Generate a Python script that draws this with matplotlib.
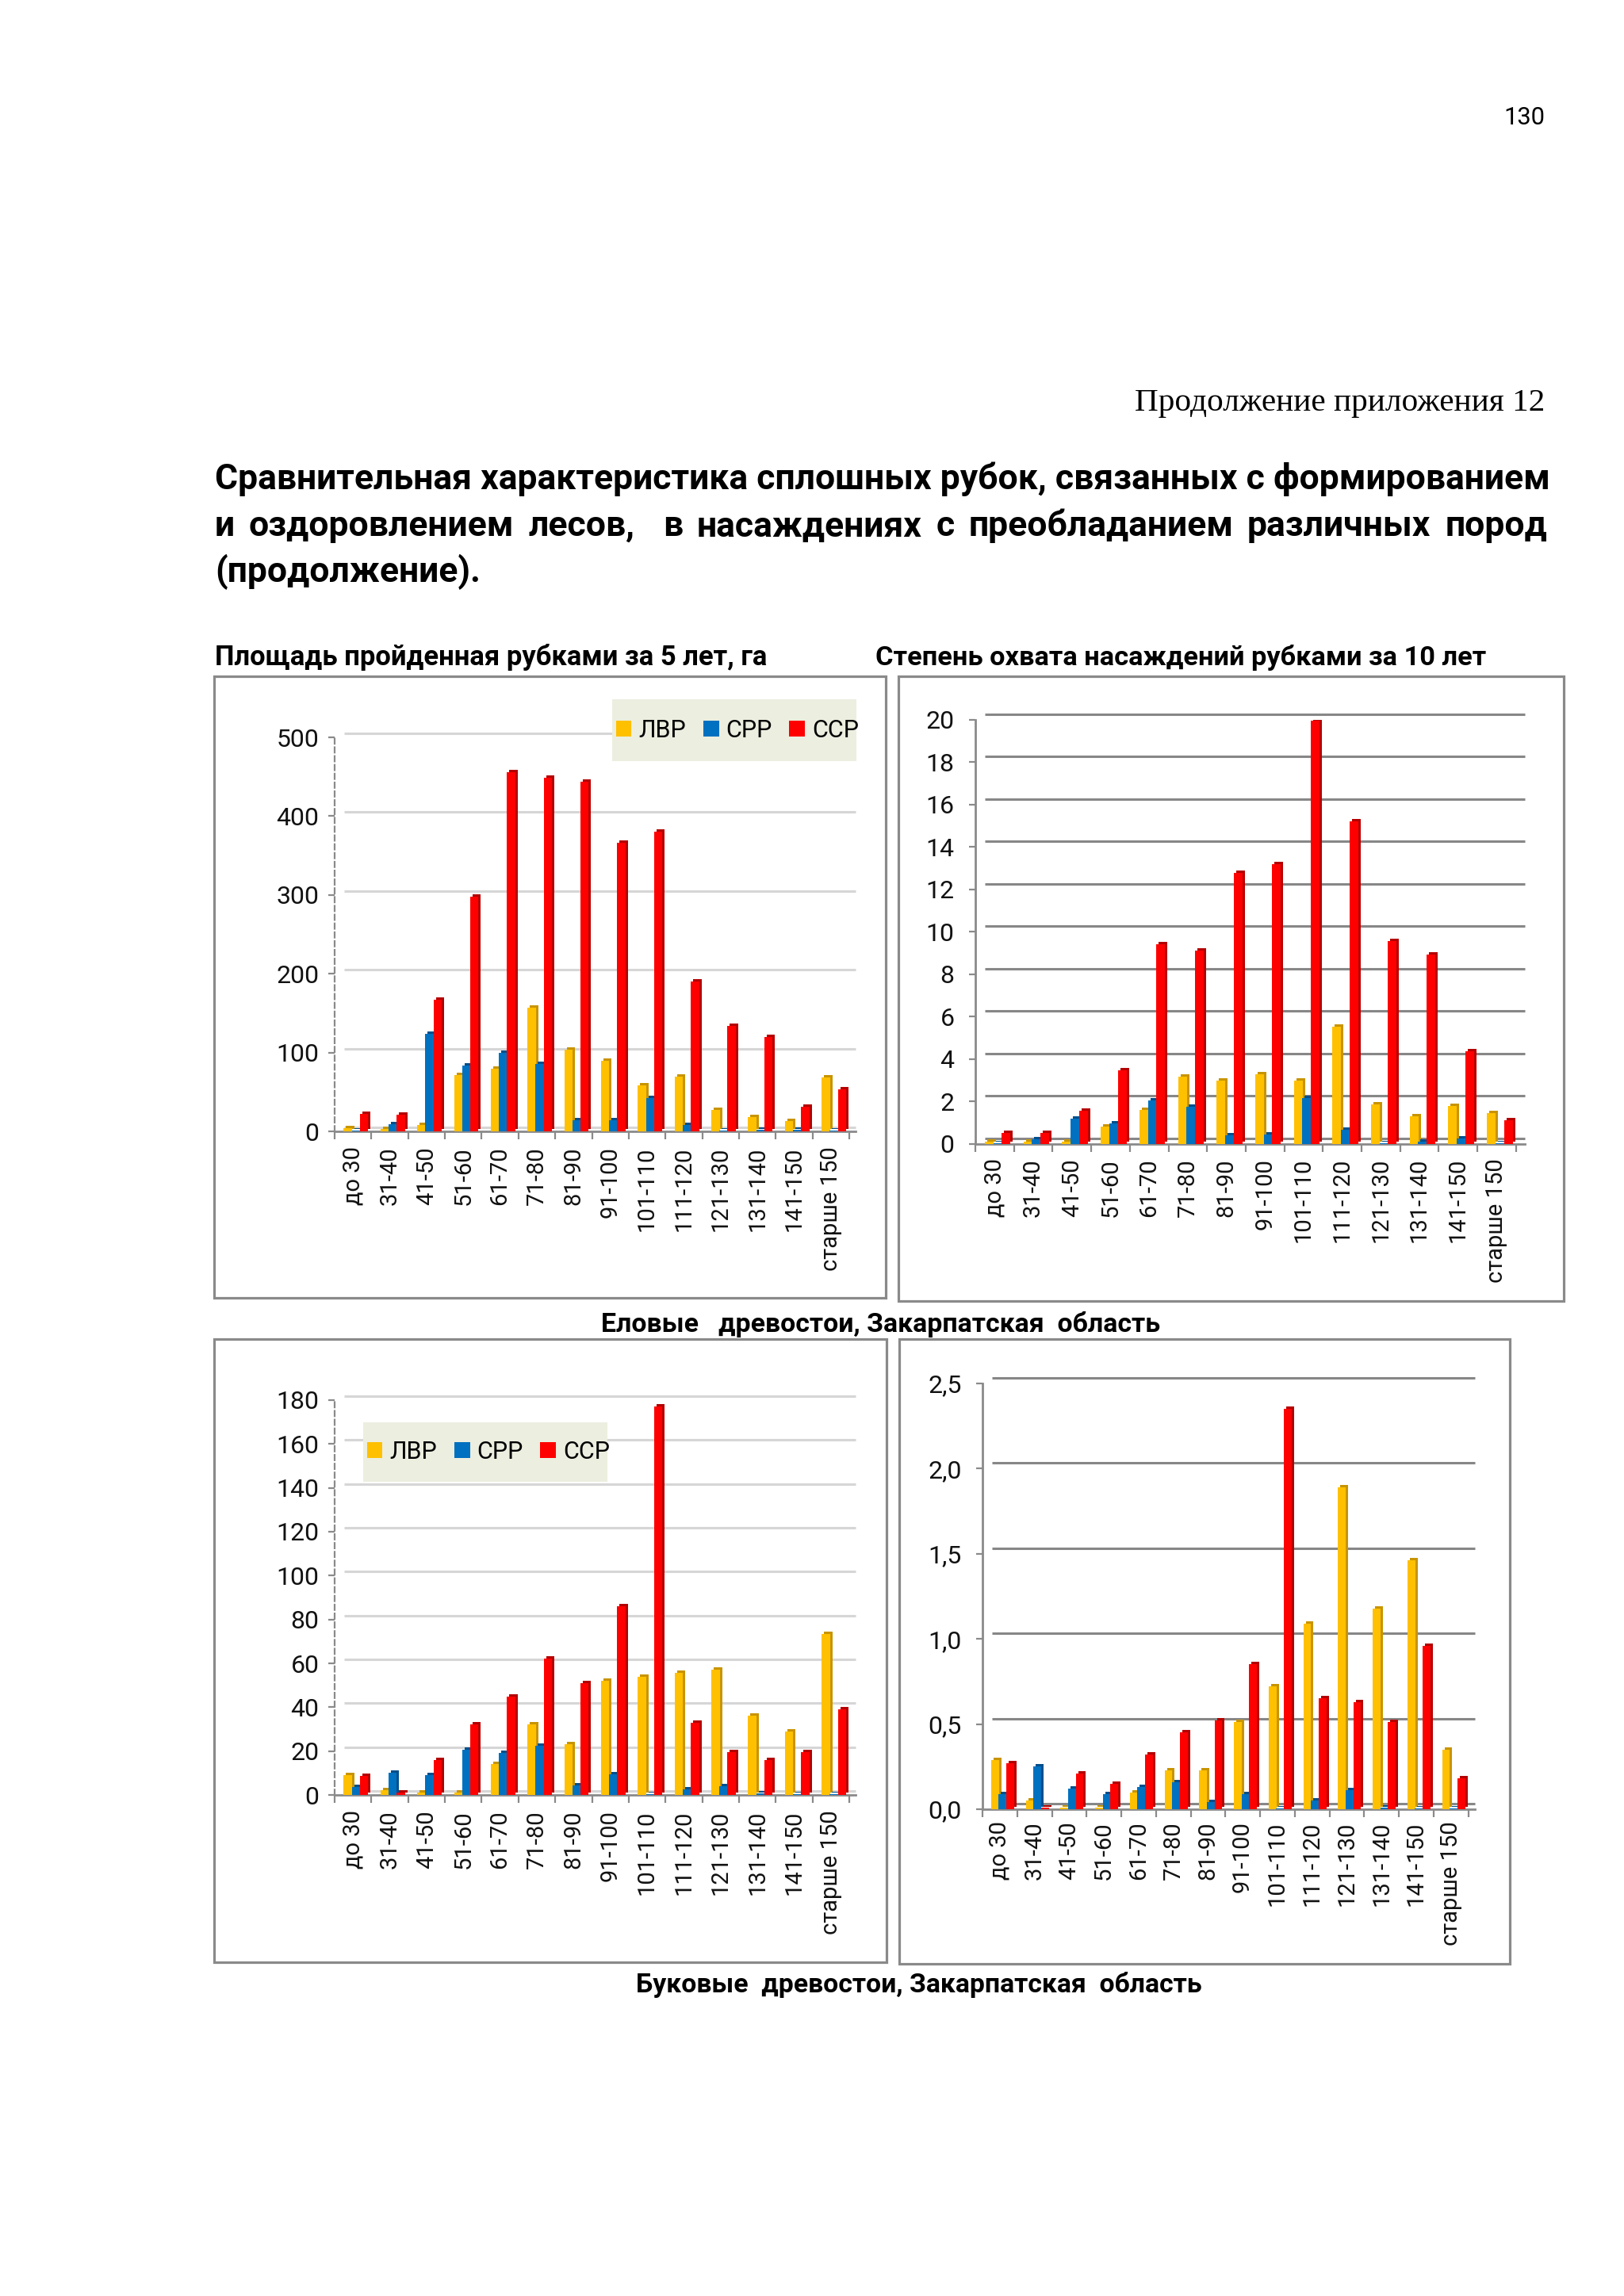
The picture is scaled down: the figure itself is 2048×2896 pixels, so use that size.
import matplotlib
matplotlib.use('Agg')
import matplotlib.pyplot as plt
from matplotlib.patches import Rectangle, Patch
import numpy as np

# ---------------- data ----------------
categories = ['до 30', '31-40', '41-50', '51-60', '61-70', '71-80', '81-90', '91-100',
              '101-110', '111-120', '121-130', '131-140', '141-150', 'старше 150']
series_names = ['ЛВР', 'СРР', 'ССР']

# Еловые: площадь, пройденная рубками за 5 лет, га
spruce_area_lvr = [4, 3, 8, 71, 79, 157, 104, 90, 58, 69, 27, 18, 13, 68]
spruce_area_srr = [1, 9, 124, 84, 100, 86, 14, 14, 42, 8, 1, 2, 2, 1]
spruce_area_ssr = [22, 21, 167, 298, 456, 449, 444, 366, 380, 190, 134, 120, 31, 53]

# Еловые: степень охвата насаждений рубками за 10 лет
spruce_cover_lvr = [0.1, 0.1, 0.1, 0.82, 1.62, 3.18, 3.0, 3.28, 3.0, 5.52, 1.88, 1.3, 1.78, 1.45]
spruce_cover_srr = [0.05, 0.22, 1.18, 0.97, 2.07, 1.75, 0.4, 0.45, 2.17, 0.68, 0.05, 0.1, 0.25, 0.05]
spruce_cover_ssr = [0.53, 0.53, 1.57, 3.47, 9.42, 9.12, 12.78, 13.18, 19.97, 15.22, 9.57, 8.92, 4.38, 1.13]

# Буковые: площадь
beech_area_lvr = [9, 2, 1, 1, 14, 32, 23, 52, 54, 55.5, 57, 36, 29, 73.5]
beech_area_srr = [3.5, 10, 9, 20.5, 19, 22.5, 4.5, 9.5, 0.5, 2.5, 4, 0.8, 0.2, 0.2]
beech_area_ssr = [8.5, 1, 16, 32, 45, 62, 51, 86, 177, 33, 19.5, 16, 19.5, 39]

# Буковые: степень охвата
beech_cover_lvr = [0.29, 0.05, 0.01, 0.01, 0.1, 0.23, 0.23, 0.51, 0.72, 1.09, 1.89, 1.18, 1.46, 0.35]
beech_cover_srr = [0.09, 0.25, 0.12, 0.09, 0.13, 0.16, 0.04, 0.09, 0.005, 0.05, 0.11, 0.01, 0.005, 0.005]
beech_cover_ssr = [0.27, 0.01, 0.21, 0.15, 0.32, 0.45, 0.52, 0.85, 2.35, 0.65, 0.63, 0.51, 0.96, 0.18]

yticks_spruce_area = [0, 100, 200, 300, 400, 500]
yticks_spruce_cover = [0, 2, 4, 6, 8, 10, 12, 14, 16, 18, 20]
yticks_beech_area = [0, 20, 40, 60, 80, 100, 120, 140, 160, 180]
yticks_beech_cover = [0, 0.5, 1.0, 1.5, 2.0, 2.5]
yticklabels_beech_cover = ['0,0', '0,5', '1,0', '1,5', '2,0', '2,5']

page_number = '130'
appendix_note = 'Продолжение приложения 12'
title_lines = ['Сравнительная характеристика сплошных рубок, связанных с формированием',
               'и оздоровлением лесов,  в насаждениях с преобладанием различных пород',
               '(продолжение).']
subtitle_left = 'Площадь пройденная рубками за 5 лет, га'
subtitle_right = 'Степень охвата насаждений рубками за 10 лет'
caption_spruce = 'Еловые   древостои, Закарпатская  область'
caption_beech = 'Буковые  древостои, Закарпатская  область'

# ---------------- style ----------------
plt.rcParams['font.family'] = ['Roboto', 'DejaVu Sans']
COLORS = ['#FFC000', '#0070C0', '#FF0000']
SIDES = ['#C89400', '#004F8C', '#B40000']
YTICK_SIZE = 23
XTICK_SIZE = 21

W, H = 2048, 2896
fig = plt.figure(figsize=(W / 100, H / 100), dpi=100)
fig.patch.set_facecolor('white')
renderer = fig.canvas.get_renderer()


def fpos(x, y):
    return x / W, 1 - y / H


def add_ax(left, top, right, bottom):
    return fig.add_axes([left / W, 1 - bottom / H, (right - left) / W, (bottom - top) / H])


def fit_text(x, y, s, width, ha='left', **kw):
    t = fig.text(*fpos(x, y), s, fontsize=20, ha=ha, va='baseline', **kw)
    w = t.get_window_extent(renderer).width
    t.set_fontsize(20 * width / w)
    return t


def justify(s, x0, x1, yb, size, **kw):
    tokens = s.split(' ')
    words = [w for w in tokens if w]
    ngaps = len(tokens) - 1
    ts = [fig.text(0, 0, w, fontsize=size, ha='left', va='baseline', **kw) for w in words]
    widths = [t.get_window_extent(renderer).width for t in ts]
    gap = (x1 - x0 - sum(widths)) / ngaps
    x = x0
    wi = 0
    for tok in tokens:
        if tok:
            ts[wi].set_position(fpos(x, yb))
            x += widths[wi] + gap
            wi += 1
        else:
            x += gap


def box(left, top, right, bottom):
    r = Rectangle(fpos(left, bottom), (right - left) / W, (bottom - top) / H,
                  transform=fig.transFigure, fill=False, edgecolor='#8a8a8a', lw=2.3)
    fig.patches.append(r)


def draw_chart(rect, cat_px, series, yticks, yticklabels, light, grid_dy, xpad,
               legend_box=None):
    left, top, right, bottom = rect
    ax = add_ax(left, top, right, bottom)
    n = len(categories)
    ymax = yticks[-1]
    xmax = -0.5 + (right - left) / cat_px
    ax.set_xlim(-0.5, xmax)
    ax.set_ylim(0, ymax)
    hpx = bottom - top
    unit_y = ymax / hpx          # data units per pixel
    unit_x = 1.0 / cat_px
    x = np.arange(n)
    offsets = [-0.14, 0.08, 0.30]
    width = 0.225
    dx, dy = 3 * unit_x, 3 * unit_y

    gcol = '#d6d6d6' if light else '#878787'
    gx0 = -0.5 + 12 * unit_x
    for v in yticks:
        ax.plot([gx0, xmax], [v + grid_dy * unit_y] * 2, color=gcol, lw=2.2,
                zorder=1, clip_on=False, solid_capstyle='butt')

    for vals, off, c, sc in zip(series, offsets, COLORS, SIDES):
        ax.bar(x + off + dx, vals, width=width, bottom=dy, color=sc, zorder=3, linewidth=0)
        ax.bar(x + off, vals, width=width, color=c, zorder=3, linewidth=0)

    for s in ['top', 'right']:
        ax.spines[s].set_visible(False)
    ax.spines['bottom'].set_color('#8a8a8a')
    ax.spines['bottom'].set_linewidth(2)
    ax.spines['left'].set_color('#8a8a8a')
    ax.spines['left'].set_linewidth(1.6 if light else 2)
    if light:
        ax.spines['left'].set_linestyle((0, (3, 2)))

    ax.set_yticks(yticks)
    ax.set_yticklabels(yticklabels, fontsize=YTICK_SIZE, color='#111111')
    ax.tick_params(axis='y', length=6, width=1.6, color='#8a8a8a', pad=8 if light else 13)
    ax.set_xticks(x)
    ax.set_xticklabels(categories, rotation=90, fontsize=XTICK_SIZE, color='#111111')
    ax.tick_params(axis='x', which='major', length=0, pad=xpad)
    ax.set_xticks(np.arange(-0.5, n, 1), minor=True)
    ax.tick_params(axis='x', which='minor', length=7, width=1.6, color='#8a8a8a')
    ax.set_facecolor('none')

    if legend_box is not None:
        l, t, r, b = legend_box
        bg = Rectangle(fpos(l, b), (r - l) / W, (b - t) / H, transform=fig.transFigure,
                       facecolor='#eceedf', edgecolor='none', zorder=6, clip_on=False)
        ax.add_patch(bg)
        handles = [Patch(facecolor=c, edgecolor='none') for c in COLORS]
        cx, cy = fpos((l + r) / 2 + 4, (t + b) / 2)
        leg = ax.legend(handles, series_names, loc='center', bbox_to_anchor=(cx, cy),
                        bbox_transform=fig.transFigure, ncol=3, frameon=False,
                        handlelength=0.65, handleheight=0.65, handletextpad=0.3,
                        columnspacing=0.7, fontsize=22, borderpad=0)
        leg.set_zorder(7)
    return ax


# ---------------- page text ----------------
fit_text(1948, 157, page_number, 52, ha='right')
fit_text(1948, 518, appendix_note, 518, ha='right', family=['Liberation Serif', 'DejaVu Serif'])

t1 = fit_text(271, 617, title_lines[0], 1680, weight='bold')
tsize = t1.get_fontsize()
justify(title_lines[1], 271, 1951, 676, tsize, weight='bold')
fig.text(*fpos(271, 734), title_lines[2], fontsize=tsize, weight='bold', ha='left', va='baseline')

fit_text(271, 839, subtitle_left, 694, weight='bold')
fit_text(1104, 839, subtitle_right, 769, weight='bold')
fit_text(758, 1680, caption_spruce, 703, weight='bold')
fit_text(802, 2513, caption_beech, 713, weight='bold')

# ---------------- frames ----------------
box(270, 853, 1117, 1637)
box(1133, 853, 1972, 1641)
box(270, 1689, 1118, 2475)
box(1134, 1689, 1904, 2477)

# ---------------- charts ----------------
draw_chart((422, 930, 1079, 1427), 46.36,
           [spruce_area_lvr, spruce_area_srr, spruce_area_ssr],
           yticks_spruce_area, [str(v) for v in yticks_spruce_area], True, 5, 14,
           legend_box=(772, 882, 1080, 960))
draw_chart((1230, 908, 1923, 1443), 48.7,
           [spruce_cover_lvr, spruce_cover_srr, spruce_cover_ssr],
           yticks_spruce_cover, [str(v) for v in yticks_spruce_cover], False, 7, 13)
draw_chart((422, 1766, 1079, 2264), 46.36,
           [beech_area_lvr, beech_area_srr, beech_area_ssr],
           yticks_beech_area, [str(v) for v in yticks_beech_area], True, 5, 14,
           legend_box=(458, 1794, 766, 1869))
draw_chart((1239, 1745, 1860, 2282), 43.75,
           [beech_cover_lvr, beech_cover_srr, beech_cover_ssr],
           yticks_beech_cover, yticklabels_beech_cover, False, 7, 11)

fig.savefig('out.png', dpi=100, facecolor='white')
